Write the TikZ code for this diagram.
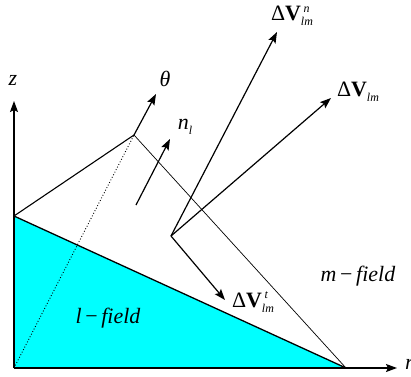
\documentclass[tikz,border=0pt]{standalone}
\usepackage{fontspec}
\setmainfont{Liberation Serif}
\usetikzlibrary{arrows.meta}
\definecolor{fieldcyan}{RGB}{0,255,255}
\newcommand{\smallit}[1]{\fontsize{12}{12}\selectfont\textit{#1}}
\begin{document}
\begin{tikzpicture}[x=1bp,y=-1bp,
  ar/.style={line width=1.2bp,-{Stealth[length=11bp,width=8bp,inset=2bp]}},
  lab/.style={inner sep=0pt,font=\fontsize{22}{24}\selectfont}]
\useasboundingbox (0,0) rectangle (411,377);
% points
\coordinate (O) at (14,368);
\coordinate (Z) at (14,216);
\coordinate (R) at (346,368);
\coordinate (A) at (134,135);
\coordinate (P) at (171,236);
\coordinate (ztop) at (14,101);
\coordinate (rend) at (397,368);
\coordinate (th) at (156,94);
\coordinate (n0) at (136,205);
\coordinate (n1) at (170,139);
\coordinate (vn) at (277,32);
\coordinate (v) at (331,98);
\coordinate (vt) at (225,300);
% fill
\fill[fieldcyan] (O) -- (Z) -- (R) -- cycle;
\draw[line width=1.3bp] (Z) -- (R);
\draw[line width=1.1bp] (Z) -- (A);
\draw[line width=0.7bp] (A) -- (R);
\draw[line width=0.9bp,dotted] (O) -- (A);
% axes
\draw[ar] (O) -- (ztop);
\draw[ar] (O) -- (rend);
% arrows
\draw[ar] (A) -- (th);
\draw[ar] (n0) -- (n1);
\draw[ar] (P) -- (vn);
\draw[ar] (P) -- (v);
\draw[ar] (P) -- (vt);
% labels
\node[lab] (lz) at (13,80) {\textit{z}};
\node[lab,anchor=west] (lr) at (405,364) {\textit{r}};
\node[lab] (lth) at (165,79) {\textit{θ}};
\node[lab] (lnl) at (185,127) {\textit{n}\raisebox{-0.45ex}{\smallit{l}}};
\node[lab] (lvn) at (292,16) {Δ\textbf{V}\raisebox{-0.5ex}{\rlap{\raisebox{1.35ex}{\kern0.12em\smallit{n}}}\smallit{lm}}};
\node[lab] (lv) at (358,92) {Δ\textbf{V}\raisebox{-0.5ex}{\smallit{lm}}};
\node[lab] (lvt) at (253,302) {Δ\textbf{V}\raisebox{-0.5ex}{\rlap{\raisebox{1.35ex}{\kern0.12em\smallit{t}}}\smallit{lm}}};
\node[lab] (lm) at (358,276) {\textit{m}\,−\,\textit{field}};
\node[lab] (ll) at (108,318) {\textit{l}\,−\,\textit{field}};
\end{tikzpicture}
\end{document}
